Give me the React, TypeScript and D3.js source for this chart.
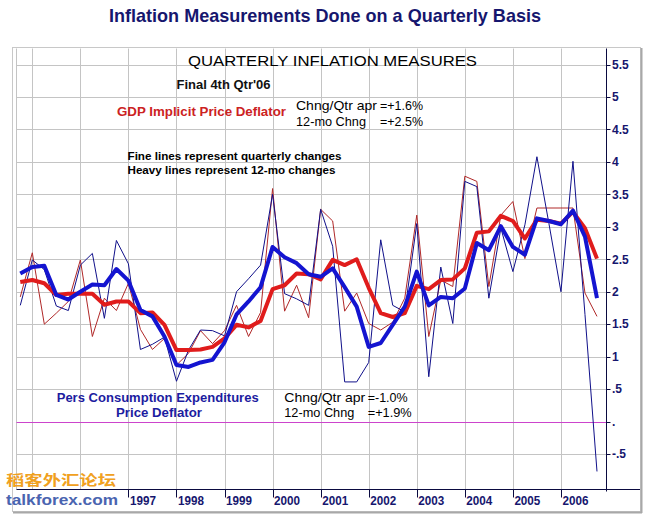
import React from "react";
import * as d3 from "d3";

// ---- data (quarterly, 1994Q4 .. 2006Q4) ----
const quarterLabels = [
  "94Q4",
  "95Q1","95Q2","95Q3","95Q4","96Q1","96Q2","96Q3","96Q4",
  "97Q1","97Q2","97Q3","97Q4","98Q1","98Q2","98Q3","98Q4",
  "99Q1","99Q2","99Q3","99Q4","00Q1","00Q2","00Q3","00Q4",
  "01Q1","01Q2","01Q3","01Q4","02Q1","02Q2","02Q3","02Q4",
  "03Q1","03Q2","03Q3","03Q4","04Q1","04Q2","04Q3","04Q4",
  "05Q1","05Q2","05Q3","05Q4","06Q1","06Q2","06Q3","06Q4",
];
const gdpQtr = [
  1.92, 2.60, 1.50, 1.67, 1.85, 2.49, 1.31, 1.90, 1.71, 2.13, 1.42, 1.11, 1.28,
  0.87, 1.05, 1.40, 1.20, 1.40, 1.79, 1.31, 1.68, 3.59, 1.70, 2.10, 1.60, 3.27,
  3.09, 1.70, 1.98, 1.51, 1.41, 1.53, 1.90, 3.18, 1.31, 2.18, 2.08, 3.78, 3.70,
  2.08, 3.18, 3.39, 2.51, 3.29, 3.29, 3.29, 3.29, 1.98, 1.62,
];
const pceQtr = [
  1.79, 2.49, 2.34, 1.78, 1.71, 2.41, 2.59, 1.59, 2.79, 2.43, 1.11, 1.19, 1.30,
  0.62, 1.10, 1.41, 1.40, 1.32, 2.00, 2.20, 2.41, 3.50, 1.97, 1.89, 1.79, 3.27,
  2.70, 0.61, 0.61, 0.91, 2.80, 1.79, 1.69, 3.05, 0.69, 2.38, 1.51, 3.70, 3.62,
  1.90, 2.98, 2.31, 3.03, 4.08, 3.05, 2.00, 4.01, 1.65, -0.77,
];
const gdp12 = [
  2.15, 2.18, 2.13, 1.95, 1.97, 1.97, 1.97, 1.80, 1.85, 1.85, 1.67, 1.68, 1.49,
  1.10, 1.10, 1.11, 1.15, 1.28, 1.49, 1.45, 1.55, 2.04, 2.10, 2.28, 2.27, 2.19,
  2.49, 2.41, 2.50, 2.06, 1.67, 1.61, 1.67, 2.09, 2.04, 2.18, 2.19, 2.36, 2.91,
  2.93, 3.17, 3.09, 2.82, 3.11, 3.09, 3.05, 3.23, 2.98, 2.51,
];
const pce12 = [
  2.28, 2.38, 2.40, 1.95, 1.88, 2.00, 2.11, 2.10, 2.35, 2.17, 1.72, 1.62, 1.31,
  0.87, 0.84, 0.91, 0.95, 1.22, 1.65, 1.85, 2.07, 2.69, 2.53, 2.44, 2.27, 2.23,
  2.36, 2.07, 1.77, 1.15, 1.21, 1.49, 1.77, 2.31, 1.79, 1.92, 1.90, 2.05, 2.75,
  2.64, 3.01, 2.69, 2.57, 3.13, 3.09, 3.04, 3.25, 2.85, 1.90,
];
const yTicks = [5.5, 5, 4.5, 4, 3.5, 3, 2.5, 2, 1.5, 1, 0.5, 0, -0.5];
const yTickLabels = ["5.5", "5", "4.5", "4", "3.5", "3", "2.5", "2", "1.5", "1", ".5", ".", "-.5"];
const gridYears = [1995, 1996, 1997, 1998, 1999, 2000, 2001, 2002, 2003, 2004, 2005, 2006];
const yearLabels = [1997, 1998, 1999, 2000, 2001, 2002, 2003, 2004, 2005, 2006];
const firstQuarterTime = 1994.75;

// ---- layout ----
const W = 648;
const H = 515;
const plotLeft = 16.5;
const plotTop = 48.5;
const axisX = 606.5;
const axisY = 489.5;

const x = d3.scaleLinear().domain([1995, 2007]).range([32.3, 609]);
const y = d3.scaleLinear().domain([0, 5.5]).range([421.5, 64.6]);

const times = quarterLabels.map((_, i) => firstQuarterTime + i * 0.25);

const lineGen = d3
  .line<number>()
  .x((_, i) => x(times[i]))
  .y((d) => y(d));

const NAVY = "#16166e";

export default function App() {
  return (
    <svg
      width={W}
      height={H}
      viewBox={`0 0 ${W} ${H}`}
      style={{ position: "absolute", left: 0, top: 0, display: "block", background: "#fff" }}
      fontFamily="'Liberation Sans', Arial, sans-serif"
    >
      <rect x={0} y={0} width={W} height={H} fill="#fff" />
      {/* title */}
      <text
        x={325}
        y={22}
        textAnchor="middle"
        fontSize={19}
        fontWeight="bold"
        fill={NAVY}
        textLength={432}
        lengthAdjust="spacingAndGlyphs"
      >
        Inflation Measurements Done on a Quarterly Basis
      </text>

      {/* panel frame */}
      <rect x={12.5} y={47.5} width={628} height={464} fill="#fff" stroke="#c8c8c8" strokeWidth={1} />
      <line x1={641.5} y1={48} x2={641.5} y2={513} stroke="#a8a8a8" strokeWidth={2} />
      <line x1={13} y1={512.5} x2={642} y2={512.5} stroke="#a8a8a8" strokeWidth={2} />

      {/* grid */}
      <line x1={plotLeft} y1={plotTop} x2={plotLeft} y2={axisY} stroke="#c4c4c4" />
      {gridYears.map((yr) => (
        <line
          key={"v" + yr}
          x1={Math.round(x(yr)) + 0.5}
          x2={Math.round(x(yr)) + 0.5}
          y1={plotTop}
          y2={axisY}
          stroke="#c4c4c4"
          strokeWidth={1}
        />
      ))}
      {yTicks.map((t) =>
        t === 0 ? null : (
          <line
            key={"h" + t}
            x1={plotLeft}
            x2={axisX}
            y1={Math.round(y(t)) + 0.5}
            y2={Math.round(y(t)) + 0.5}
            stroke="#c4c4c4"
            strokeWidth={1}
          />
        )
      )}
      {/* zero line */}
      <line x1={plotLeft} x2={axisX} y1={Math.round(y(0)) + 0.5} y2={Math.round(y(0)) + 0.5} stroke="#cc44cc" strokeWidth={1} />

      {/* texts inside plot */}
      <text x={188} y={66} fontSize={15.5} fill="#000" textLength={289} lengthAdjust="spacingAndGlyphs">
        QUARTERLY INFLATION MEASURES
      </text>
      <text x={176.5} y={89} fontSize={12.5} fontWeight="bold" fill="#111" textLength={94} lengthAdjust="spacingAndGlyphs">
        Final 4th  Qtr'06
      </text>
      <text x={117} y={116} fontSize={13.5} fontWeight="bold" fill="#cc2222" textLength={169} lengthAdjust="spacingAndGlyphs">
        GDP Implicit Price Deflator
      </text>
      <text x={296} y={110} fontSize={13.5} fill="#000" textLength={81} lengthAdjust="spacingAndGlyphs">
        Chng/Qtr apr
      </text>
      <text x={380} y={110} fontSize={13.5} fill="#000" textLength={43} lengthAdjust="spacingAndGlyphs">
        =+1.6%
      </text>
      <text x={296} y={126} fontSize={13.5} fill="#000" textLength={70} lengthAdjust="spacingAndGlyphs">
        12-mo Chng
      </text>
      <text x={380} y={126} fontSize={13.5} fill="#000" textLength={43} lengthAdjust="spacingAndGlyphs">
        =+2.5%
      </text>
      <text x={127.5} y={160} fontSize={11} fontWeight="bold" fill="#000" textLength={214} lengthAdjust="spacingAndGlyphs">
        Fine lines represent quarterly changes
      </text>
      <text x={127.5} y={174} fontSize={11} fontWeight="bold" fill="#000" textLength={208} lengthAdjust="spacingAndGlyphs">
        Heavy lines represent 12-mo changes
      </text>

      {/* series */}
      <path d={lineGen(gdpQtr) || ""} fill="none" stroke="#b02828" strokeWidth={1} />
      <path d={lineGen(pceQtr) || ""} fill="none" stroke="#10108a" strokeWidth={1} />
      <path d={lineGen(gdp12) || ""} fill="none" stroke="#e01c1c" strokeWidth={4} strokeLinejoin="round" />
      <path d={lineGen(pce12) || ""} fill="none" stroke="#1414d0" strokeWidth={4} strokeLinejoin="round" />

      {/* PCE text */}
      <text x={56.7} y={401.7} fontSize={13.5} fontWeight="bold" fill="#1c1ca0" textLength={202} lengthAdjust="spacingAndGlyphs">
        Pers Consumption Expenditures
      </text>
      <text x={159} y={416.7} textAnchor="middle" fontSize={13.5} fontWeight="bold" fill="#1c1ca0" textLength={86} lengthAdjust="spacingAndGlyphs">
        Price Deflator
      </text>
      <text x={284.3} y={401.7} fontSize={13.5} fill="#000" textLength={81} lengthAdjust="spacingAndGlyphs">
        Chng/Qtr apr
      </text>
      <text x={367.7} y={401.7} fontSize={13.5} fill="#000" textLength={40} lengthAdjust="spacingAndGlyphs">
        =-1.0%
      </text>
      <text x={284.3} y={416.7} fontSize={13.5} fill="#000" textLength={70} lengthAdjust="spacingAndGlyphs">
        12-mo Chng
      </text>
      <text x={367.7} y={416.7} fontSize={13.5} fill="#000" textLength={44} lengthAdjust="spacingAndGlyphs">
        =+1.9%
      </text>

      {/* right axis */}
      <line x1={axisX} x2={axisX} y1={plotTop} y2={axisY + 2} stroke="#0a0a40" strokeWidth={1} />
      {yTicks.map((t, i) => (
        <g key={"yt" + t}>
          <line x1={axisX} x2={axisX + 4} y1={Math.round(y(t)) + 0.5} y2={Math.round(y(t)) + 0.5} stroke="#0a0a40" />
          <text x={axisX + 5.5} y={y(t)} dy="0.36em" fontSize={12} fontWeight="bold" fill={NAVY}>
            {yTickLabels[i]}
          </text>
        </g>
      ))}

      {/* bottom axis */}
      <line x1={plotLeft} x2={640} y1={axisY} y2={axisY} stroke="#0a0a40" strokeWidth={1} />
      {yearLabels.map((yr) => (
        <g key={"xt" + yr}>
          <line x1={Math.round(x(yr)) + 0.5} x2={Math.round(x(yr)) + 0.5} y1={axisY} y2={axisY + 8} stroke="#0a0a40" />
          <text x={x(yr) + 1.5} y={505} fontSize={12.5} fontWeight="bold" fill={NAVY} textLength={26} lengthAdjust="spacingAndGlyphs">
            {yr}
          </text>
        </g>
      ))}

      {/* watermark */}
      <text
        x={6}
        y={485}
        fontSize={14}
        fontWeight="bold"
        fill="#f0a020"
        fontFamily="'Noto Sans CJK SC', sans-serif"
        textLength={110}
        lengthAdjust="spacingAndGlyphs"
      >
        稻客外汇论坛
      </text>
      <text
        x={6}
        y={505}
        fontSize={14}
        fontWeight="bold"
        fill="#4a64b0"
        textLength={112}
        lengthAdjust="spacingAndGlyphs"
      >
        talkforex.com
      </text>
    </svg>
  );
}
